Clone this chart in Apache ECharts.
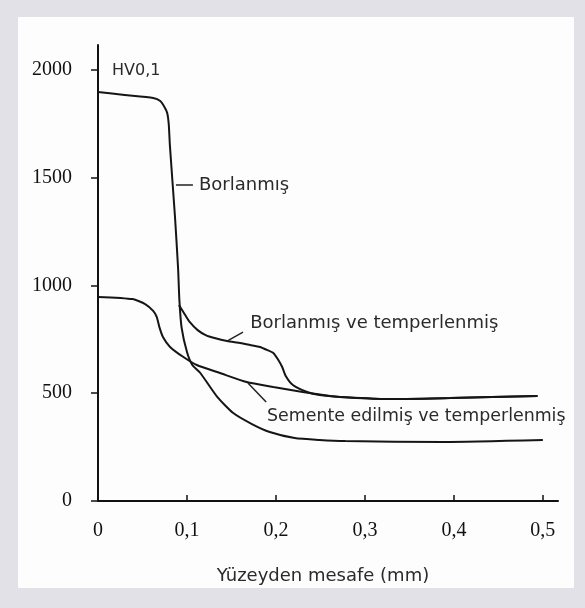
<!DOCTYPE html>
<html>
<head>
<meta charset="utf-8">
<script src="https://cdn.jsdelivr.net/npm/echarts@6/dist/echarts.min.js"></script>
<style>
html, body { margin: 0; padding: 0; background: #e2e1e7; }
#main { width: 585px; height: 608px; }
</style>
</head>
<body>
<div id="main"></div>
<script>
// eksen etiketleri
var xTickValues = [0, 0.1, 0.2, 0.3, 0.4, 0.5];
var xTickLabels = ['0', '0,1', '0,2', '0,3', '0,4', '0,5'];
var yTickValues = [0, 500, 1000, 1500, 2000];
var yTickLabels = ['0', '500', '1000', '1500', '2000'];

// Borlanmış
var borX = [0, 0.030, 0.062, 0.070, 0.075, 0.0778, 0.0795, 0.0808, 0.0865, 0.090, 0.0915, 0.094, 0.100, 0.106, 0.115, 0.134, 0.152, 0.173, 0.193, 0.221, 0.249, 0.278, 0.388, 0.500];
var borY = [1898, 1884, 1870, 1856, 1826, 1800, 1750, 1650, 1320, 1080, 930, 803, 691, 631, 594, 483, 408, 357, 320, 292, 283, 278, 274, 283];

// Borlanmış ve temperlenmiş
var tempX = [0.091, 0.098, 0.103, 0.112, 0.121, 0.131, 0.145, 0.160, 0.171, 0.182, 0.190, 0.197, 0.202, 0.207, 0.211, 0.219, 0.235, 0.249, 0.272, 0.325, 0.396, 0.494];
var tempY = [909, 863, 831, 793, 770, 756, 742, 733, 724, 715, 701, 687, 659, 622, 580, 538, 506, 492, 483, 473, 478, 487];

// Semente edilmiş ve temperlenmiş
var semX = [0, 0.039, 0.053, 0.062, 0.066, 0.069, 0.073, 0.081, 0.096, 0.111, 0.137, 0.167, 0.197, 0.230, 0.261, 0.272, 0.325, 0.396, 0.494];
var semY = [947, 937, 914, 882, 854, 807, 761, 715, 668, 631, 594, 552, 529, 506, 487, 483, 473, 478, 487];

// etiketler: metin, metin konumu, yazı boyu, ok çizgisi
var notes = [
    { text: 'HV0,1', at: [0.0157, 1995], size: 16, leader: null },
    { text: 'Borlanmış', at: [0.1135, 1466], size: 18, leader: [[0.0876, 1466], [0.1067, 1466]] },
    { text: 'Borlanmış ve temperlenmiş', at: [0.171, 826], size: 18, leader: [[0.145, 742], [0.163, 784]] },
    { text: 'Semente edilmiş ve temperlenmiş', at: [0.190, 390], size: 17.4, leader: [[0.1685, 548], [0.189, 459]] }
];

function zip(xs, ys) {
    var out = [];
    for (var i = 0; i < xs.length; i++) out.push([xs[i], ys[i]]);
    return out;
}

var curveStyle = { color: '#151515', width: 2 };
var series = [
    { name: 'Borlanmış', type: 'line', data: zip(borX, borY), smooth: 0.2, showSymbol: false, lineStyle: curveStyle },
    { name: 'Borlanmış ve temperlenmiş', type: 'line', data: zip(tempX, tempY), smooth: 0.2, showSymbol: false, lineStyle: curveStyle },
    { name: 'Semente edilmiş ve temperlenmiş', type: 'line', data: zip(semX, semY), smooth: 0.2, showSymbol: false, lineStyle: curveStyle }
];
notes.forEach(function (n) {
    if (!n.leader) return;
    series.push({ type: 'line', data: n.leader, showSymbol: false, silent: true, lineStyle: { color: '#222', width: 1.5 } });
});

var serif = '"Liberation Serif", "DejaVu Serif", serif';
var sans = '"DejaVu Sans", sans-serif';

var myChart = echarts.init(document.getElementById('main'));
var option = {
    backgroundColor: '#e2e1e7',
    animation: false,
    graphic: [{
        type: 'rect', z: -10, silent: true,
        shape: { x: 18, y: 17, width: 556, height: 571 },
        style: { fill: '#fdfdfd' }
    }],
    grid: { left: 98, top: 45, right: 27, bottom: 107 },
    xAxis: {
        type: 'value', min: 0, max: 0.517,
        name: 'Yüzeyden mesafe (mm)', nameLocation: 'middle', nameGap: 66,
        nameTextStyle: { fontFamily: sans, fontSize: 18, color: '#2a2a2a', padding: [0, 0, 0, -10] },
        axisLine: { lineStyle: { color: '#111', width: 2 } },
        axisTick: { inside: true, length: 6, customValues: xTickValues.slice(1), lineStyle: { color: '#111', width: 1.5 } },
        axisLabel: {
            customValues: xTickValues, margin: 20,
            fontFamily: serif, fontSize: 20, color: '#111',
            formatter: function (v) { return xTickLabels[xTickValues.indexOf(v)]; }
        },
        splitLine: { show: false }
    },
    yAxis: {
        type: 'value', min: 0, max: 2116,
        axisLine: { lineStyle: { color: '#111', width: 2 } },
        axisTick: { length: 7, customValues: yTickValues, lineStyle: { color: '#111', width: 1.5 } },
        axisLabel: {
            customValues: yTickValues, margin: 26,
            fontFamily: serif, fontSize: 20, color: '#111', padding: [8, 0, 0, 0],
            formatter: function (v) { return yTickLabels[yTickValues.indexOf(v)]; }
        },
        splitLine: { show: false }
    },
    series: series
};
myChart.setOption(option);

// etiket metinleri veri koordinatından yerleştirilir
var texts = notes.map(function (n) {
    var p = myChart.convertToPixel({ gridIndex: 0 }, n.at);
    return {
        type: 'text', x: p[0], y: p[1], silent: true,
        style: { text: n.text, fill: '#2a2a2a', font: n.size + 'px ' + sans, textVerticalAlign: 'middle' }
    };
});
myChart.setOption({ graphic: option.graphic.concat(texts) });
</script>
</body>
</html>
